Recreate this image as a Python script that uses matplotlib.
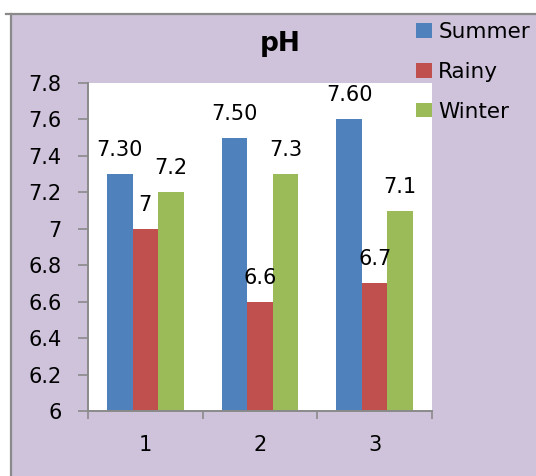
import matplotlib
matplotlib.use("Agg")
import matplotlib.pyplot as plt
from matplotlib.patches import Rectangle
from matplotlib.lines import Line2D
import numpy as np

categories = ["1", "2", "3"]
series_names = ["Summer", "Rainy", "Winter"]
summer = [7.30, 7.50, 7.60]
rainy = [7.0, 6.6, 6.7]
winter = [7.2, 7.3, 7.1]
summer_labels = ["7.30", "7.50", "7.60"]
rainy_labels = ["7", "6.6", "6.7"]
winter_labels = ["7.2", "7.3", "7.1"]
yticks = [6.0, 6.2, 6.4, 6.6, 6.8, 7.0, 7.2, 7.4, 7.6, 7.8]

colors = ["#4F81BD", "#C0504D", "#9BBB59"]
bg = "#CEC3DB"
W, H = 536, 476
fig = plt.figure(figsize=(W / 100, H / 100), dpi=100)
fig.patch.set_facecolor("white")

# chart-area background with border
fig.patches.append(Rectangle((11 / W, 0), 1, (H - 14) / H, transform=fig.transFigure,
                             facecolor=bg, edgecolor="none", zorder=-5))
fig.lines.append(Line2D([11 / W, 11 / W], [0, (H - 14) / H], transform=fig.transFigure,
                        color="#8a8a8a", lw=1.6, zorder=-4))
fig.lines.append(Line2D([6 / W, 1], [(H - 14) / H, (H - 14) / H], transform=fig.transFigure,
                        color="#8a8a8a", lw=1.6, zorder=-4))

left, right, top, bottom = 88, 432, 83, 411
ax = fig.add_axes([left / W, (H - bottom) / H, (right - left) / W, (bottom - top) / H])
ax.set_facecolor("white")

x = np.arange(len(categories))
bw = 0.223
series = [summer, rainy, winter]
labels = [summer_labels, rainy_labels, winter_labels]
for i, (vals, labs) in enumerate(zip(series, labels)):
    xs = x + (i - 1) * bw
    ax.bar(xs, np.array(vals) - 6.0, bottom=6.0, width=bw, color=colors[i],
           label=series_names[i], zorder=2)
    for xi, v, lab in zip(xs, vals, labs):
        ax.annotate(lab, (xi, v), xytext=(0, 13), textcoords="offset points",
                    ha="center", va="baseline", fontsize=15, color="black", zorder=3,
                    annotation_clip=False)

ax.set_xlim(-0.5, 2.5)
ax.set_ylim(6.0, 7.8)
ax.set_yticks(yticks)
ax.set_yticklabels([f"{v:g}" for v in yticks], fontsize=15)
ax.set_xticks(x)
ax.set_xticklabels(categories, fontsize=15)
ax.set_xticks([-0.5, 0.5, 1.5, 2.5], minor=True)
ax.tick_params(axis="x", which="major", length=0, pad=17)
ax.tick_params(axis="x", which="minor", length=6, color="#8a8a8a", width=1.2, direction="out")
ax.tick_params(axis="y", which="major", length=7, color="#8a8a8a", width=1.2, pad=12)
for s in ["top", "right"]:
    ax.spines[s].set_visible(False)
for s in ["left", "bottom"]:
    ax.spines[s].set_color("#8a8a8a")
    ax.spines[s].set_linewidth(1.4)

fig.text(280 / W, 1 - 44 / H, "pH", ha="center", va="center", fontsize=19, fontweight="bold")

handles, labs = ax.get_legend_handles_labels()
leg = fig.legend(handles, labs, loc="upper left", bbox_to_anchor=(416 / W, 1 - 22 / H),
                 frameon=False, fontsize=15.5, handlelength=0.75, handleheight=0.66,
                 handletextpad=0.28, labelspacing=0.92, borderaxespad=0, borderpad=0)

fig.savefig("out.png", dpi=100)
